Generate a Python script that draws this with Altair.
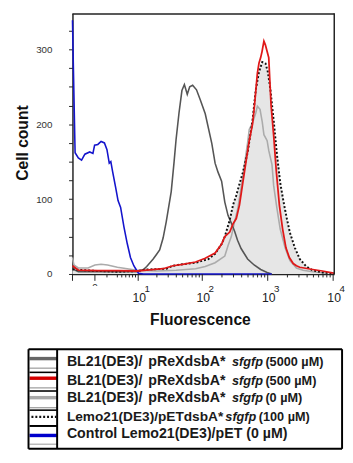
import altair as alt
import pandas as pd

# ---------------- data (fluorescence, cell count) ----------------
blue_f = [-4.0, -3.8, -3.46, -2.83, -2.23, -1.65, -0.84, -0.32, -0.05, 0.47, 1.0, 1.56, 2.0, 2.41, 2.70,
          3.03, 3.66, 4.15, 4.73, 5.53, 6.39, 7.34, 8.42, 9.55, 10.1, 12.2, 79, 440, 1150]
blue_n = [339, 272, 162, 155, 152, 160, 163, 161, 172, 173, 177, 175, 166, 148, 150,
          137, 115, 98, 89, 63, 41, 22, 11, 4, 1, 0, 0, 0, 0]

dark_f = [-4.0, -3.46, -2.83, -1.11, 0.47, 2.11, 4.0, 6.39, 9.55, 12.2, 13.8, 17.5, 19.7, 22.1, 25.0,
          28.0, 33.4, 37.0, 39.7, 44.0, 48.8, 53.2, 58.9, 64.2, 71.2, 81.6, 93.7, 111, 140, 157,
          174, 197.5, 221, 248, 278, 312, 346, 392, 493, 620, 781, 980, 1150]
dark_n = [10, 5, 3, 3, 3, 3, 3, 3, 3, 6, 10, 20, 26, 32, 48,
          70, 110, 150, 180, 215, 245, 253, 240, 250, 252, 246, 232, 214, 174, 148,
          136, 124, 96, 78, 68, 57, 45, 34, 20, 12, 6, 2, 0]

red_f = [-4.0, -2.83, 0.47, 4.0, 9.55, 13.8, 25.0, 35.5, 50, 78.9, 111, 157, 197.5, 221, 263,
         295, 331, 370, 415, 466, 522, 586, 620, 657, 695, 737, 781, 819, 875, 921,
         980, 1037, 1071, 1126, 1233, 1345, 1507, 1690, 1900, 2140, 2453, 2748, 3089, 4873, 6850,
         9700, 10390]
red_n = [11, 5, 4.5, 4.5, 4, 5, 7, 11, 13, 16, 21, 28, 40, 50, 56,
         67, 74, 92, 121, 150, 178, 200, 220, 244, 268, 282, 289, 297, 311, 306,
         297, 289, 263, 225, 185, 140, 92, 60, 35, 22, 14, 11, 9, 6, 4,
         1.5, 1]

gray0_f = [-4.0, -3.7, -2.83, -1.11, 0, 1.0, 2.11, 4.0, 6.39, 9.55, 19.7, 39.7, 78.9, 111, 157,
           221, 248, 278, 312, 350, 392, 440, 493, 522, 586, 657, 695, 763, 825, 875,
           980, 1037, 1163, 1233, 1382, 1552, 1844, 2187, 2748, 3460, 4873, 8164]
gray0_n = [22, 12, 8, 8, 12, 13, 12, 9, 7, 5, 4, 5, 7, 10, 15,
           24, 38, 50, 70, 88, 115, 145, 175, 193, 202, 215, 224, 220, 203, 186,
           178, 165, 146, 118, 88, 60, 35, 18, 8, 5, 3, 1]

lemo_f = [-4.0, 0.47, 4.0, 9.55, 13.8, 28.0, 35.5, 50, 78.9, 124.6, 157, 197.5, 221, 263, 295,
          331, 370, 415, 493, 586, 657, 737, 825, 928, 1004, 1101, 1233, 1382, 1552, 1740,
          1949, 2187, 2601, 3089, 3873, 4873, 6850, 9700, 10390]
lemo_n = [6, 4, 3, 4, 6, 7, 11, 13, 15, 20, 27, 40, 50, 72, 92,
          105, 120, 135, 162, 205, 246, 270, 283, 281, 270, 246, 205, 160, 122, 97,
          75, 55, 35, 20, 10, 5, 2, 1, 0.5]

major_ticks = [-4.0, 0, 10, 100, 1000, 10000]
minor_ticks = [2, 4, 5, 6, 7, 8, 9,
               20, 30, 40, 50, 60, 70, 80, 90,
               200, 300, 400, 500, 600, 700, 800, 900,
               2000, 3000, 4000, 5000, 6000, 7000, 8000, 9000]
decades = [10, 100, 1000, 10000]
exponents = ["1", "2", "3", "4"]
y_ticks = [0, 25, 50, 75, 100, 125, 150, 175, 200, 225, 250, 275, 300, 325]

leg_part_a = ["BL21(DE3)/", "BL21(DE3)/", "BL21(DE3)/",
              "Lemo21(DE3)/pETdsbA*", "Control  Lemo21(DE3)/pET (0 µM)"]
leg_part_b = ["pReXdsbA*", "pReXdsbA*", "pReXdsbA*", "", ""]
leg_italic = ["sfgfp", "sfgfp", "sfgfp", "sfgfp", ""]
leg_suffix = ["(5000 µM)", "(500 µM)", "(0 µM)", "(100 µM)", ""]

# ---------------- scales ----------------
W = 4.58  # width of the linear region of the biexponential display
U_EXPR = f"log(datum.f/{W} + sqrt(datum.f*datum.f/({W}*{W}) + 1))/LN10"
xs = alt.Scale(domain=[-0.343, 3.657], nice=False, zero=False)
ys = alt.Scale(domain=[0, 348.3], nice=False, zero=False)

SANS = "Liberation Sans, Arial, sans-serif"

x_axis = alt.Axis(labels=False, ticks=False, title=None, grid=False,
                  domainColor="#222", domainWidth=1.5)
y_axis = alt.Axis(values=y_ticks, labelExpr="datum.value % 100 == 0 ? datum.label : ''",
                  tickSize=4, tickColor="#222", tickWidth=1, labelPadding=17,
                  labelFont=SANS, labelFontSize=10, labelColor="#333",
                  domainColor="#222", domainWidth=1.5, grid=False, title=None)


def curve(fs, ns, name):
    return pd.DataFrame({"f": fs, "n": ns, "series": name})


def enc(ch):
    return ch.encode(x=alt.X("u:Q", scale=xs, axis=x_axis),
                     y=alt.Y("n:Q", scale=ys, axis=y_axis))


lemo_area = enc(alt.Chart(curve(lemo_f, lemo_n, "lemo")).transform_calculate(u=U_EXPR)
                .mark_area(color="#e6e6e6", opacity=1))
gray0_line = enc(alt.Chart(curve(gray0_f, gray0_n, "0")).transform_calculate(u=U_EXPR)
                 .mark_line(color="#ababab", strokeWidth=1.6))
dark_line = enc(alt.Chart(curve(dark_f, dark_n, "5000")).transform_calculate(u=U_EXPR)
                .mark_line(color="#555555", strokeWidth=1.6))
lemo_line = enc(alt.Chart(curve(lemo_f, lemo_n, "lemo")).transform_calculate(u=U_EXPR)
                .mark_line(color="#111111", strokeWidth=2, strokeDash=[2, 2]))
blue_line = enc(alt.Chart(curve(blue_f, blue_n, "ctrl")).transform_calculate(u=U_EXPR)
                .mark_line(color="#1414cc", strokeWidth=1.6))
red_line = enc(alt.Chart(curve(red_f, red_n, "500")).transform_calculate(u=U_EXPR)
               .mark_line(color="#e01818", strokeWidth=1.8))

# x ticks (biexponential axis)
major = (alt.Chart(pd.DataFrame({"f": major_ticks})).transform_calculate(u=U_EXPR)
         .mark_rule(color="#222", strokeWidth=1)
         .encode(x=alt.X("u:Q", scale=xs, axis=x_axis), y=alt.value(267), y2=alt.value(274)))
minor = (alt.Chart(pd.DataFrame({"f": minor_ticks})).transform_calculate(u=U_EXPR)
         .mark_rule(color="#222", strokeWidth=1)
         .encode(x=alt.X("u:Q", scale=xs, axis=x_axis), y=alt.value(267), y2=alt.value(270.5)))

dec_df = pd.DataFrame({"f": decades, "e": exponents, "b": ["10"] * len(decades)})
dec_base = (alt.Chart(dec_df).transform_calculate(u=U_EXPR)
            .mark_text(font=SANS, fontSize=12.5, color="#222", align="center", baseline="alphabetic", dx=1)
            .encode(x=alt.X("u:Q", scale=xs, axis=x_axis), y=alt.value(295.3), text="b:N"))
dec_exp = (alt.Chart(dec_df).transform_calculate(u=U_EXPR)
           .mark_text(font=SANS, fontSize=10, color="#222", align="left", baseline="alphabetic", dx=6.5)
           .encode(x=alt.X("u:Q", scale=xs, axis=x_axis), y=alt.value(285.3), text="e:N"))
zero_lab = (alt.Chart(pd.DataFrame({"f": [0], "t": ["0"]})).transform_calculate(u=U_EXPR)
            .mark_text(font=SANS, fontSize=10, color="#333", align="center", baseline="alphabetic")
            .encode(x=alt.X("u:Q", scale=xs, axis=x_axis), y=alt.value(283.5), text="t:N"))
zero_mask = (alt.Chart(pd.DataFrame({"a": [0]})).mark_rect(color="white")
             .encode(x=alt.value(17), x2=alt.value(29), y=alt.value(279.3), y2=alt.value(284.5)))


def txt(s, x, y, **kw):
    return (alt.Chart(pd.DataFrame({"t": [s]})).mark_text(**kw)
            .encode(x=alt.value(x), y=alt.value(y), text="t:N"))


title_y = txt("Cell count", -50.5, 133, angle=270, font=SANS, fontWeight="bold",
              fontSize=16, color="#111", align="center", baseline="middle")
title_x = txt("Fluorescence", 131, 314, font=SANS, fontWeight="bold",
              fontSize=16, color="#111", align="center", baseline="middle")


def hline(x1, x2, y, color, width, dash=None):
    kw = dict(color=color, strokeWidth=width)
    if dash:
        kw["strokeDash"] = dash
    return (alt.Chart(pd.DataFrame({"a": [0]})).mark_rule(**kw)
            .encode(x=alt.value(x1), x2=alt.value(x2), y=alt.value(y)))


def vline(x, y1, y2, color, width):
    return (alt.Chart(pd.DataFrame({"a": [0]})).mark_rule(color=color, strokeWidth=width)
            .encode(x=alt.value(x), y=alt.value(y1), y2=alt.value(y2)))


# plot frame (top and right)
frame = [hline(0, 268, 0.75, "#222", 1.5), vline(268, 0, 267, "#222", 1.5)]

# legend (drawn below the plot)
LX1, LX2, LDIV, LY1, LY2 = -45, 276, -15.7, 344, 446
legend_layers = [
    hline(LX1 + 1, LDIV, 353.6, "#666666", 3.5),
    hline(LX1 + 1, LDIV, 363.4, "#999999", 1.2),
    hline(LX1 + 1, LDIV, 367.7, "#000000", 1.6),
    hline(LX1 + 1, LDIV, 373.7, "#d40000", 3.5),
    hline(LX1 + 1, LDIV, 383.6, "#999999", 1.2),
    hline(LX1 + 1, LDIV, 386.8, "#000000", 1.6),
    hline(LX1 + 1, LDIV, 393.6, "#aaaaaa", 3.5),
    hline(LX1 + 1, LDIV, 403.9, "#999999", 1.2),
    hline(LX1 + 1, LDIV, 406.4, "#000000", 1.6),
    hline(LX1 + 3, LDIV - 1, 413.3, "#111111", 2.5, [2, 2]),
    hline(LX1 + 1, LDIV, 422.6, "#000000", 2),
    hline(LX1 + 1, LDIV, 432.3, "#0000cc", 3.5),
    hline(LX1 + 1, LDIV, 441.3, "#bbbbbb", 1.5),
    hline(LX1, LX2, LY1, "#000000", 2),
    hline(LX1, LX2, LY2, "#000000", 2),
    vline(LX1, LY1, LY2, "#000000", 2),
    vline(LX2, LY1, LY2, "#000000", 2),
    vline(LDIV, LY1, LY2, "#000000", 2),
]
row_base = [360.8, 380.2, 398.3, 417.0, 435.1]
part_b_x = 77.7
ital_x = [163.3, 163.3, 163.3, 156.5, None]
suf_x = [197.5, 197.5, 197.5, 190.7, None]
row_size = [14.5, 14.5, 14.5, 14, 14.5]
common = dict(color="#1a1a1a", align="left", baseline="alphabetic", fontWeight="bold", font=SANS)
for i in range(5):
    legend_layers.append(txt(leg_part_a[i], -5.7, row_base[i], fontSize=row_size[i], **common))
    if leg_part_b[i]:
        legend_layers.append(txt(leg_part_b[i], part_b_x, row_base[i], fontSize=row_size[i], **common))
    if leg_italic[i]:
        legend_layers.append(txt(leg_italic[i], ital_x[i], row_base[i], fontSize=13,
                                 fontStyle="italic", **common))
        legend_layers.append(txt(leg_suffix[i], suf_x[i], row_base[i], fontSize=13, **common))

chart = alt.layer(
    lemo_area, gray0_line, dark_line, lemo_line, blue_line, red_line,
    minor, major, zero_lab, zero_mask, dec_base, dec_exp, title_y, title_x,
    *frame, *legend_layers
).properties(
    width=268, height=267,
    autosize=alt.AutoSizeParams(type="none"),
    padding={"left": 66, "top": 0, "right": 11, "bottom": 180},
    background="white",
).configure_view(stroke=None)

chart.save("out.html", embed_options={"renderer": "svg", "actions": False})
